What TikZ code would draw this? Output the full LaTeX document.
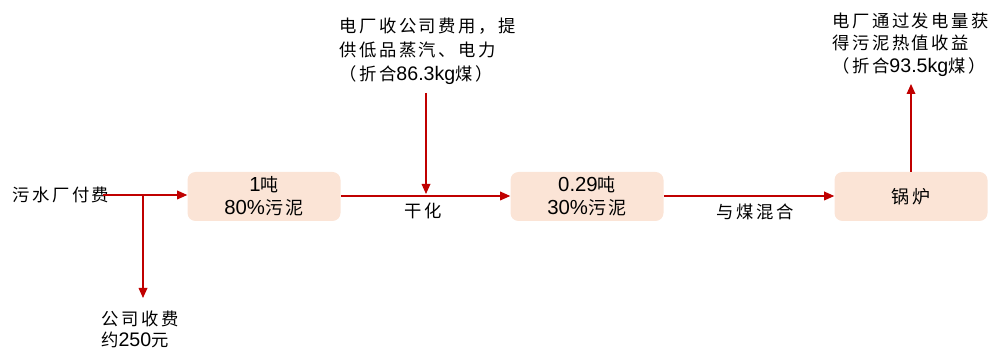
\documentclass[tikz,border=0pt]{standalone}
\usepackage{fontspec}
\setmainfont{Liberation Sans}[Scale=1.13]
\newfontfamily\cj{Noto Sans CJK SC}[LetterSpace=15]
\usetikzlibrary{arrows.meta}
\definecolor{boxfill}{RGB}{251,228,214}
\definecolor{arrred}{RGB}{192,0,0}
\begin{document}
\begin{tikzpicture}[x=0.75pt,y=-0.75pt,
  box/.style={fill=boxfill, rounded corners=6pt, minimum width=153*0.75pt, minimum height=49*0.75pt, align=center, inner sep=0pt, font=\fontsize{13.5}{17.5}\selectfont},
  lbl/.style={inner sep=0pt, align=left, font=\fontsize{13}{18}\selectfont},
  arr/.style={draw=arrred, line width=0.9pt, -{Triangle[length=7.5pt,width=6.5pt]}}]
\useasboundingbox (0,0) rectangle (1002,352);
% boxes
\node[box] (b1) at (264,196.5) {1{\cj 吨}\\80\%{\cj 污泥}};
\node[box] (b2) at (587,196.5) {0.29{\cj 吨}\\30\%{\cj 污泥}};
\node[box] (b3) at (911,196.5) {\cj 锅炉};
% labels
\node[lbl, anchor=west] (src) at (12,195) {\cj 污水厂付费};
\node[lbl, anchor=west, font=\fontsize{13}{16}\selectfont] (fee) at (101,329.5) {{\cj 公司收费}\\{\cj 约}250{\cj 元}};
\node[lbl, anchor=west] (t1) at (339,51) {{\cj 电厂收公司费用，提}\\{\cj 供低品蒸汽、电力}\\{\cj （折合}86.3kg{\cj 煤）}};
\node[lbl, anchor=west, font=\fontsize{13}{17}\selectfont] (t2) at (832,44.5) {{\cj 电厂通过发电量获}\\{\cj 得污泥热值收益}\\{\cj （折合}93.5kg{\cj 煤）}};
\node[lbl] (dry) at (423,211) {\cj 干化};
\node[lbl] (mix) at (755,212) {\cj 与煤混合};
% coordinates
\coordinate (j) at (143,196);
\coordinate (feetip) at (143,298);
\coordinate (t1bot) at (426,93);
\coordinate (t1tip) at (426,194);
\coordinate (t2tip) at (911,84);
% connectors
\draw[arr] (src.east) ++(-5pt,0) coordinate (s0) (s0) -- (s0 -| b1.west);
\draw[arr] (j) -- (feetip);
\draw[arr] (b1.east |- j) -- (b2.west |- j);
\draw[arr] (t1bot) -- (t1tip);
\draw[arr] (b2.east |- j) -- (b3.west |- j);
\draw[arr] (b3.north) -- (t2tip);
\end{tikzpicture}
\end{document}
